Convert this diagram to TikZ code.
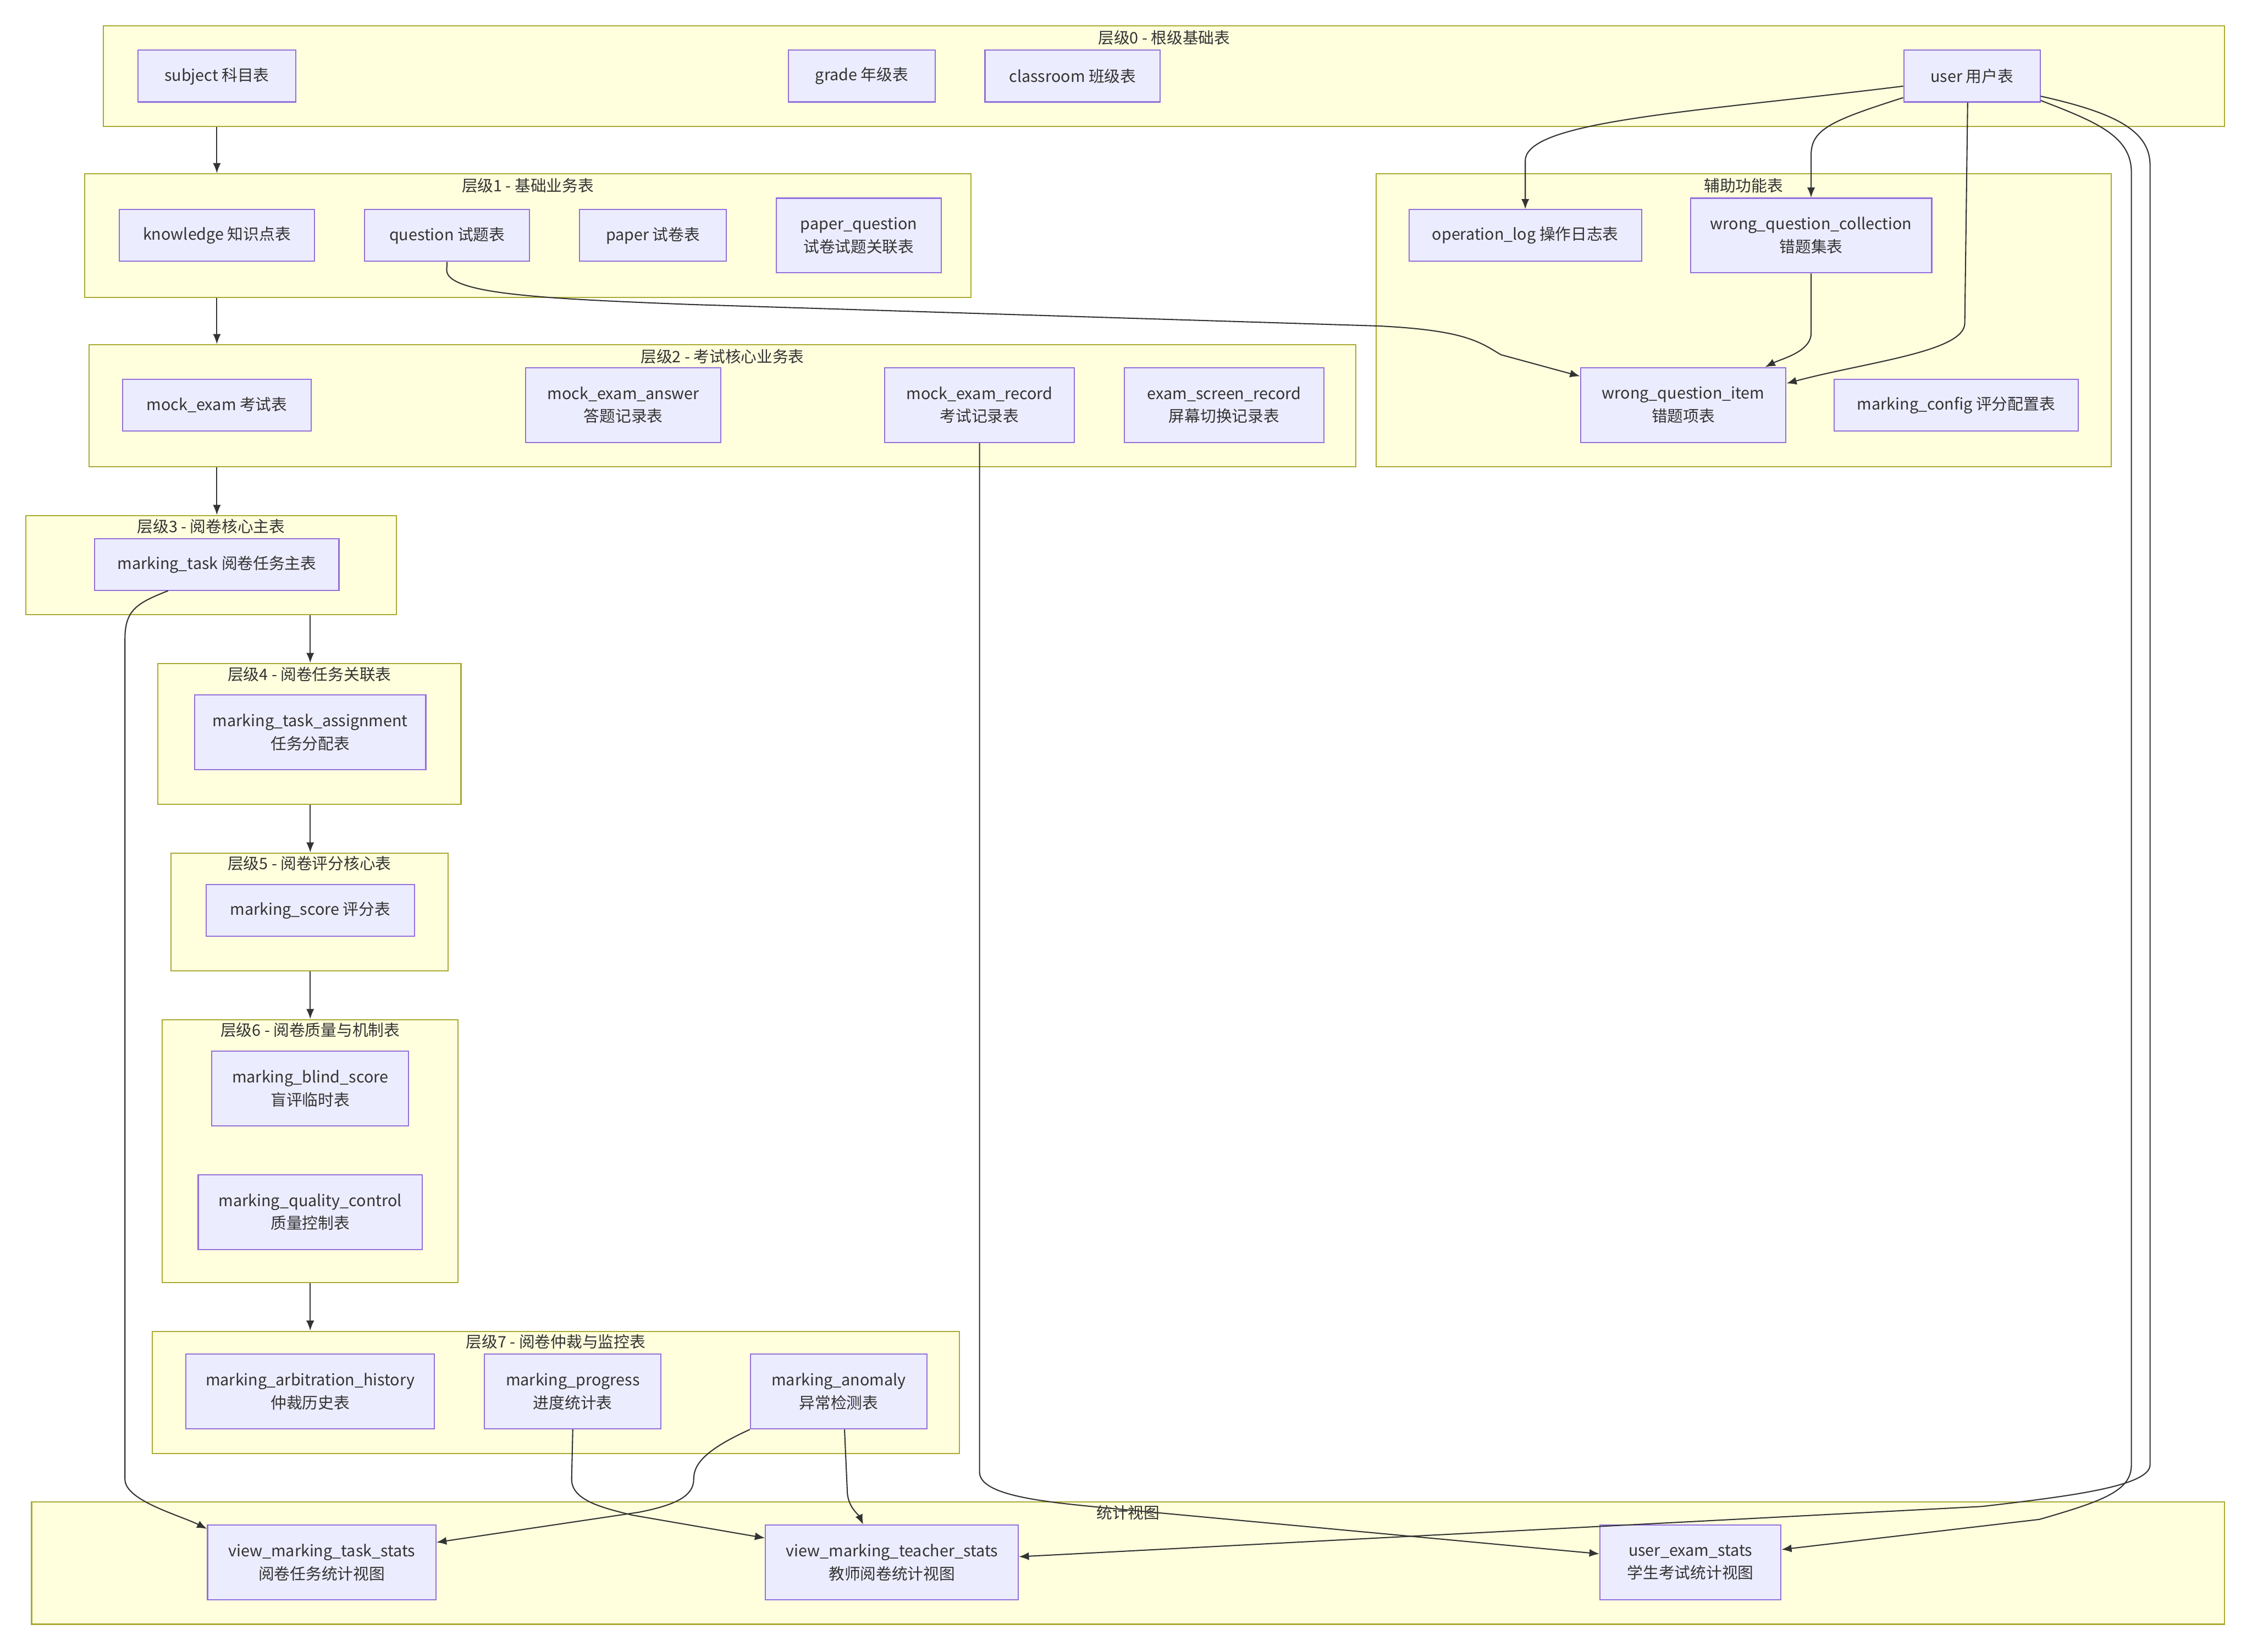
\documentclass[tikz,border=0pt]{standalone}
\usepackage{fontspec}
\setmainfont{Noto Sans CJK SC}
\usepackage{tikz}
\usetikzlibrary{positioning,fit,arrows.meta}
\definecolor{clfill}{HTML}{FFFFDE}
\definecolor{cldraw}{HTML}{AAAA33}
\definecolor{tbfill}{HTML}{ECECFF}
\definecolor{tbdraw}{HTML}{9370DB}
\definecolor{edgec}{HTML}{333333}

\begin{document}
\begin{tikzpicture}[x=1pt, y=-1pt, font=\fontsize{11}{16}\selectfont, text=edgec,
  cluster/.style={rectangle, draw=cldraw, fill=clfill, line width=0.8pt, inner sep=0pt},
  ctitle/.style={inner sep=1pt},
  tbl/.style={rectangle, draw=tbdraw, fill=tbfill, line width=0.8pt, minimum height=36pt, inner sep=2pt, align=center},
  tbl2/.style={tbl, minimum height=52pt},
  line/.style={draw=edgec, line width=0.8pt, -{Latex[length=7pt,width=5.5pt]}}]

  \useasboundingbox (0,0) rectangle (1568,1150);

  % Layers
  \node [cluster, fit={(72,18) (1549,88)}] (L0) {};
  \node [cluster, fit={(59,121) (676,207)}] (L1) {};
  \node [cluster, fit={(958,121) (1470,325)}] (aux) {};
  \node [cluster, fit={(62,240) (944,325)}] (L2) {};
  \node [cluster, fit={(18,359) (276,428)}] (L3) {};
  \node [cluster, fit={(110,462) (321,560)}] (L4) {};
  \node [cluster, fit={(119,594) (312,676)}] (L5) {};
  \node [cluster, fit={(113,710) (319,893)}] (L6) {};
  \node [cluster, fit={(106,927) (668,1012)}] (L7) {};
  \node [cluster, fit={(22,1046) (1549,1131)}] (views) {};

  \node [ctitle, below=2.5pt of L0.north] {层级0 - 根级基础表};
  \node [ctitle, below=2.5pt of L1.north] {层级1 - 基础业务表};
  \node [ctitle, below=2.5pt of aux.north] {辅助功能表};
  \node [ctitle, below=2.5pt of L2.north] {层级2 - 考试核心业务表};
  \node [ctitle, below=1.5pt of L3.north] {层级3 - 阅卷核心主表};
  \node [ctitle, below=1.5pt of L4.north] {层级4 - 阅卷任务关联表};
  \node [ctitle, below=1.5pt of L5.north] {层级5 - 阅卷评分核心表};
  \node [ctitle, below=1.5pt of L6.north] {层级6 - 阅卷质量与机制表};
  \node [ctitle, below=1.5pt of L7.north] {层级7 - 阅卷仲裁与监控表};
  \node [ctitle, below=1.5pt of views.north] {统计视图};

  % Tables
  \node [tbl, minimum width=110pt] (subj) at (151,53) {subject 科目表};
  \node [tbl, minimum width=102pt] (grade) at (600,53) {grade 年级表};
  \node [tbl, minimum width=122pt, right=34pt of grade] (clsrm) {classroom 班级表};
  \node [tbl, minimum width=95pt] (user) at (1373,53) {user 用户表};

  \node [tbl, minimum width=136pt] (know) at (151,164) {knowledge 知识点表};
  \node [tbl, minimum width=115pt, right=34pt of know] (ques) {question 试题表};
  \node [tbl, minimum width=102pt, right=34pt of ques] (paper) {paper 试卷表};
  \node [tbl2, minimum width=115pt, right=34pt of paper] (pq) {paper\_question\\试卷试题关联表};

  \node [tbl, minimum width=162pt] (oplog) at (1062,164) {operation\_log 操作日志表};
  \node [tbl2, minimum width=168pt] (wqc) at (1261,164) {wrong\_question\_collection\\错题集表};
  \node [tbl2, minimum width=143pt] (wqi) at (1172,282) {wrong\_question\_item\\错题项表};
  \node [tbl, minimum width=170pt] (mconf) at (1362,282) {marking\_config 评分配置表};

  \node [tbl, minimum width=131pt] (mexam) at (151,282) {mock\_exam 考试表};
  \node [tbl2, minimum width=136pt] (mans) at (434,282) {mock\_exam\_answer\\答题记录表};
  \node [tbl2, minimum width=132pt] (merec) at (682,282) {mock\_exam\_record\\考试记录表};
  \node [tbl2, minimum width=139pt, right=34pt of merec] (escr) {exam\_screen\_record\\屏幕切换记录表};

  \node [tbl, minimum width=170pt] (mtask) at (151,393) {marking\_task 阅卷任务主表};
  \node [tbl2, minimum width=161pt] (mta) at (216,510) {marking\_task\_assignment\\任务分配表};
  \node [tbl, minimum width=145pt] (mscore) at (216,634) {marking\_score 评分表};
  \node [tbl2, minimum width=137pt] (mblind) at (216,758) {marking\_blind\_score\\盲评临时表};
  \node [tbl2, minimum width=156pt] (mqc) at (216,844) {marking\_quality\_control\\质量控制表};

  \node [tbl2, minimum width=173pt] (marb) at (216,969) {marking\_arbitration\_history\\仲裁历史表};
  \node [tbl2, minimum width=123pt, right=34pt of marb] (mprog) {marking\_progress\\进度统计表};
  \node [tbl2, minimum width=123pt] (manom) at (584,969) {marking\_anomaly\\异常检测表};

  \node [tbl2, minimum width=159pt] (vtask) at (224,1088) {view\_marking\_task\_stats\\阅卷任务统计视图};
  \node [tbl2, minimum width=176pt] (vtea) at (621,1088) {view\_marking\_teacher\_stats\\教师阅卷统计视图};
  \node [tbl2, minimum width=126pt] (vuser) at (1177,1088) {user\_exam\_stats\\学生考试统计视图};

  % Edges
  \path [line] (L0.south -| subj) -- (L1.north -| subj);
  \path [line] (L1.south -| know) -- (L2.north -| know);
  \path [line] (L2.south -| mexam) -- (L3.north -| mexam);
  \path [line] (L3.south -| mta) -- (L4.north -| mta);
  \path [line] (L4.south -| mta) -- (L5.north -| mta);
  \path [line] (L5.south -| mta) -- (L6.north -| mta);
  \path [line] (L6.south -| mta) -- (L7.north -| mta);

  \path [line] ([yshift=-7pt]user.west) .. controls (1180,78) and (1062,84) .. (1062,112) -- (oplog.north);
  \path [line] ([yshift=-15pt]user.west) .. controls (1275,84) and (1261,90) .. (1261,108) -- (wqc.north);
  \path [line] ([xshift=-3pt]user.south) -- (1368,225) .. controls (1368,245) and (1300,252) .. ([yshift=15pt]wqi.east);
  \path [line] (wqc.south) -- (1261,232) .. controls (1261,245) and (1240,250) .. ([xshift=57pt]wqi.north);
  \path [line] (ques.south) -- (311,188) .. controls (311,205) and (380,208) .. (480,212) -- (960,227) .. controls (1020,230) and (1030,238) .. (1045,247) -- ([yshift=20pt]wqi.west);

  \path [line] ([yshift=-14pt]user.east) .. controls (1470,78) and (1497,90) .. (1497,115) -- (1497,1020) .. controls (1497,1035) and (1440,1042) .. (1380,1049) -- ([yshift=4pt]vtea.east);
  \path [line] ([yshift=-17pt]user.east) .. controls (1460,85) and (1484,95) .. (1484,120) -- (1484,1020) .. controls (1484,1038) and (1465,1045) .. (1420,1058) -- ([yshift=9pt]vuser.east);
  \path [line] (merec.south) -- (682,1025) .. controls (682,1042) and (730,1046) .. (770,1050) -- ([yshift=6pt]vuser.west);

  \path [line] ([xshift=-34pt]mtask.south) .. controls (95,420) and (87,425) .. (87,445) -- (87,1030) .. controls (87,1045) and (125,1055) .. ([yshift=-3pt]vtask.north west);
  \path [line] (manom.south west) .. controls (490,1010) and (483,1020) .. (483,1030) .. controls (483,1042) and (470,1048) .. (445,1053) -- ([yshift=14pt]vtask.east);
  \path [line] (mprog.south) -- (398,1030) .. controls (398,1045) and (420,1050) .. (440,1055) -- ([yshift=17pt]vtea.west);
  \path [line] ([xshift=4pt]manom.south) -- (590,1040) .. controls (591,1050) and (598,1055) .. ([xshift=-20pt]vtea.north);

\end{tikzpicture}
\end{document}
